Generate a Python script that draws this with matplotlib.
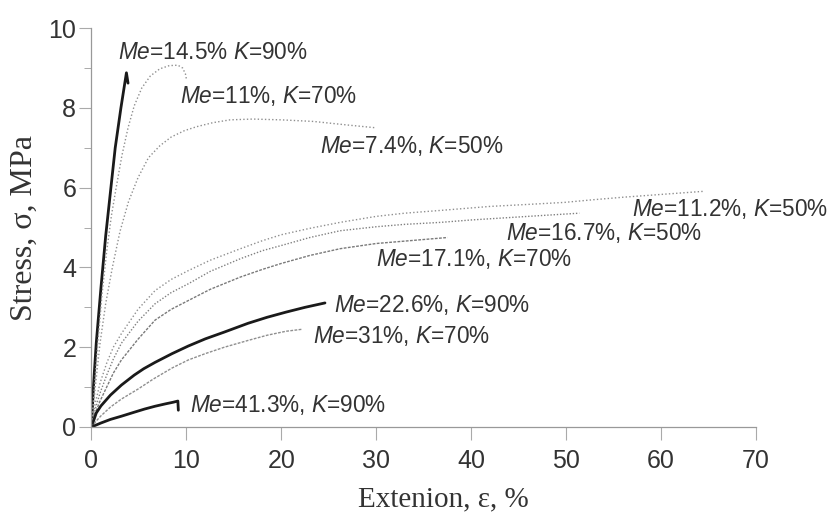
import matplotlib
matplotlib.use("Agg")
import matplotlib.pyplot as plt
from matplotlib.ticker import MultipleLocator

plt.rcParams['mathtext.fontset'] = 'custom'
plt.rcParams['mathtext.it'] = 'Liberation Sans:italic'
plt.rcParams['mathtext.rm'] = 'Liberation Sans'

# ---- data (strain %, stress MPa) ----
x_me145_k90 = [0, 0.2, 0.5, 1.0, 1.5, 2.0, 2.5, 3.1, 3.68, 3.85]
y_me145_k90 = [0, 1.0, 2.1, 3.5, 4.8, 5.9, 7.0, 8.0, 8.88, 8.62]

x_me11_k70 = [0, 0.3, 0.7, 1.1, 1.6, 2.1, 2.6, 3.2, 3.85, 4.5, 5.3, 6.2, 7.2, 8.2, 9.1, 9.6, 9.9, 10.0]
y_me11_k70 = [0, 1.0, 2.2, 3.3, 4.4, 5.3, 6.0, 6.8, 7.5, 8.05, 8.5, 8.8, 8.98, 9.06, 9.07, 9.0, 8.85, 8.72]

x_me74_k50 = [0, 0.4, 0.9, 1.5, 2.2, 3.0, 3.9, 4.9, 6.0, 7.2, 8.4, 9.8, 11.1, 12.8, 14.6, 17.0, 20.0, 23.4, 27.0, 30.0]
y_me74_k50 = [0, 1.0, 2.1, 3.1, 4.0, 4.9, 5.65, 6.25, 6.75, 7.05, 7.27, 7.43, 7.53, 7.63, 7.7, 7.72, 7.7, 7.66, 7.57, 7.5]

x_me112_k50 = [0, 0.4, 0.9, 1.6, 2.3, 3.15, 4.9, 6.7, 8.4, 10.2, 12.5, 15.7, 18.0, 20.0, 23.0, 26.2,
               30.0, 33.0, 36.8, 42.0, 46.0, 49.8, 53.0, 56.0, 60.0, 64.6]
y_me112_k50 = [0, 0.6, 1.1, 1.6, 2.0, 2.34, 2.95, 3.42, 3.7, 3.92, 4.18, 4.47, 4.67, 4.82, 4.98, 5.13,
               5.28, 5.36, 5.43, 5.53, 5.58, 5.63, 5.7, 5.76, 5.83, 5.91]

x_me167_k50 = [0, 0.4, 0.9, 1.6, 2.3, 3.15, 4.9, 6.7, 8.4, 10.2, 12.5, 15.7, 18.0, 20.0, 23.0, 26.2,
               30.0, 33.0, 36.8, 40.0, 44.0, 48.0, 51.4]
y_me167_k50 = [0, 0.45, 0.85, 1.3, 1.7, 2.1, 2.65, 3.09, 3.37, 3.59, 3.9, 4.22, 4.42, 4.55, 4.75, 4.92,
               5.02, 5.08, 5.13, 5.19, 5.25, 5.31, 5.36]

x_me171_k70 = [0, 0.4, 0.9, 1.6, 2.3, 3.15, 4.9, 6.7, 8.4, 10.2, 12.5, 15.7, 18.0, 20.0, 23.0, 26.2,
               30.0, 34.0, 37.5]
y_me171_k70 = [0, 0.35, 0.65, 1.0, 1.35, 1.68, 2.2, 2.68, 2.95, 3.17, 3.45, 3.76, 3.95, 4.1, 4.3, 4.47,
               4.6, 4.68, 4.75]

x_me226_k90 = [0, 0.5, 1.0, 2.0, 3.15, 4.5, 5.5, 6.7, 8.5, 10.2, 12.0, 14.0, 16.5, 18.5, 20.5, 22.5, 24.6]
y_me226_k90 = [0, 0.35, 0.53, 0.8, 1.05, 1.3, 1.46, 1.62, 1.84, 2.03, 2.21, 2.38, 2.6, 2.75, 2.88, 3.0, 3.11]

x_me31_k70 = [0, 0.5, 1.0, 2.0, 3.15, 4.9, 6.5, 8.5, 10.2, 12.0, 14.0, 16.5, 18.5, 20.5, 22.2]
y_me31_k70 = [0, 0.15, 0.28, 0.5, 0.7, 0.95, 1.2, 1.48, 1.68, 1.84, 2.0, 2.17, 2.3, 2.4, 2.45]

x_me413_k90 = [0, 0.5, 1.0, 2.0, 3.15, 4.5, 5.6, 6.7, 7.8, 8.6, 9.1, 9.15]
y_me413_k90 = [0, 0.05, 0.1, 0.19, 0.27, 0.37, 0.45, 0.52, 0.58, 0.62, 0.65, 0.42]

label_text = [
    r'$Me$=14.5% $K$=90%', r'$Me$=11%, $K$=70%', r'$Me$=7.4%, $K$=50%',
    r'$Me$=11.2%, $K$=50%', r'$Me$=16.7%, $K$=50%', r'$Me$=17.1%, $K$=70%',
    r'$Me$=22.6%, $K$=90%', r'$Me$=31%, $K$=70%', r'$Me$=41.3%, $K$=90%',
]
label_x = [2.8, 9.35, 24.1, 56.9, 43.7, 30.0, 25.5, 23.3, 10.4]
label_y = [9.38, 8.3, 7.05, 5.47, 4.87, 4.22, 3.05, 2.27, 0.55]

x_ticks = [0, 10, 20, 30, 40, 50, 60, 70]
y_ticks = [0, 2, 4, 6, 8, 10]

# ---- figure ----
fig = plt.figure(figsize=(8.31, 5.14), dpi=100)
ax = fig.add_axes([0.1101, 0.1693, 0.7995, 0.776])

solid = dict(color='#1a1a1a', lw=2.0, ls='-', solid_capstyle='round', solid_joinstyle='round')
dotted = dict(color='#8f8f8f', lw=1.0, ls=(0, (1, 1.6)))

ax.plot(x_me145_k90, y_me145_k90, **solid)
ax.plot(x_me11_k70, y_me11_k70, **dotted)
ax.plot(x_me74_k50, y_me74_k50, **dotted)
ax.plot(x_me112_k50, y_me112_k50, **dotted)
ax.plot(x_me167_k50, y_me167_k50, color='#808080', lw=1.0, ls=(0, (1, 1.3)))
ax.plot(x_me171_k70, y_me171_k70, color='#7a7a7a', lw=1.0, ls=(0, (2, 1)))
ax.plot(x_me226_k90, y_me226_k90, **solid)
ax.plot(x_me31_k70, y_me31_k70, color='#8f8f8f', lw=1.0, ls=(0, (2, 1)))
ax.plot(x_me413_k90, y_me413_k90, **solid)

for t, lx, ly in zip(label_text, label_x, label_y):
    ax.text(lx, ly, t, fontsize=16.3, color='#333333', family='Liberation Sans',
            ha='left', va='center')

ax.set_xlim(0, 70)
ax.set_ylim(0, 10)
ax.set_xticks(x_ticks)
ax.set_yticks(y_ticks)
ax.yaxis.set_minor_locator(MultipleLocator(1))

for s in ['top', 'right']:
    ax.spines[s].set_visible(False)
for s in ['left', 'bottom']:
    ax.spines[s].set_color('#999999')
    ax.spines[s].set_linewidth(0.9)

ax.tick_params(axis='both', which='major', length=9, width=0.8, color='#aaaaaa',
               labelsize=18, labelcolor='#333333')
ax.tick_params(axis='x', which='major', pad=7)
ax.tick_params(axis='y', which='major', pad=2)
ax.tick_params(axis='y', which='minor', length=5, width=0.7, color='#aaaaaa')
for lab in ax.get_xticklabels() + ax.get_yticklabels():
    lab.set_family('Liberation Sans')

ax.set_xlabel('Extenion, ε, %', fontsize=21, family='Liberation Serif',
              color='#333333')
ax.set_ylabel('Stress, σ, MPa', fontsize=23, family='Liberation Serif',
              color='#333333')
ax.xaxis.set_label_coords(0.53, -0.148)
ax.yaxis.set_label_coords(-0.08, 0.5)

fig.savefig('out.png', dpi=100)
